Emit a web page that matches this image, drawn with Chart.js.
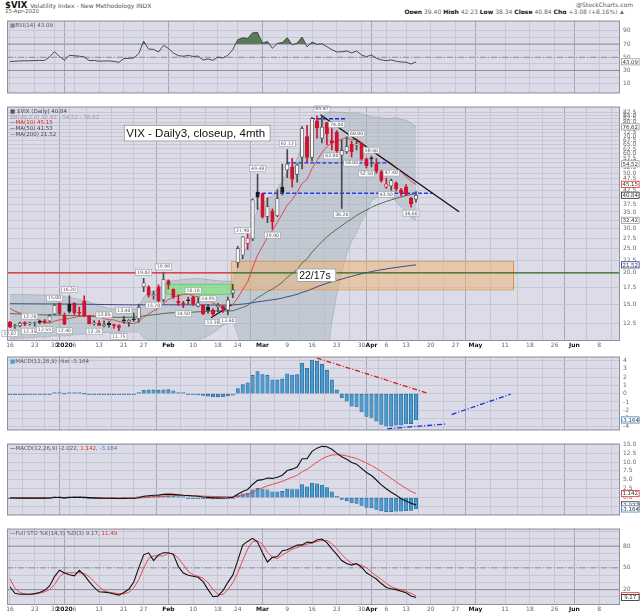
<!DOCTYPE html>
<html><head><meta charset="utf-8">
<script src="https://cdn.jsdelivr.net/npm/chart.js@4.4.1/dist/chart.umd.min.js"></script>
<style>
html,body{margin:0;padding:0;background:#fff;}
#wrap{position:relative;width:640px;height:614px;overflow:hidden;font-family:"DejaVu Sans",sans-serif;}
canvas{position:absolute;left:0;}
.t{position:absolute;white-space:nowrap;line-height:1;}
</style></head><body>
<div id="wrap">
<div class="t" style="left:5px;top:1px;font-size:8.5px;font-weight:bold;color:#111">$VIX <span style="font-size:6px;font-weight:normal;color:#555">Volatility Index - New Methodology INDX</span></div>
<div class="t" style="left:5px;top:9px;font-size:5.5px;color:#555">15-Apr-2020</div>
<div class="t" style="right:7px;top:2px;font-size:6px;color:#555">@StockCharts.com</div>
<div class="t" style="right:16px;top:9px;font-size:6px;color:#666"><b style="color:#111">Open</b> 39.40 <b style="color:#111">High</b> 42.23 <b style="color:#111">Low</b> 38.34 <b style="color:#111">Close</b> 40.84 <b style="color:#111">Chg</b> +3.08 (+8.16%) ▲</div>
<canvas id="cRsi" width="640" height="86" style="top:14px"></canvas>
<canvas id="cMain" width="640" height="250" style="top:100px"></canvas>
<canvas id="cHist" width="640" height="87" style="top:350px"></canvas>
<canvas id="cMacd" width="640" height="85" style="top:437px"></canvas>
<canvas id="cSto" width="640" height="92" style="top:522px"></canvas>
</div>
<script>
// ---------------- DATA ----------------
const dates = ['2019-12-16','2019-12-17','2019-12-18','2019-12-19','2019-12-20','2019-12-23','2019-12-24','2019-12-26','2019-12-27','2019-12-30','2019-12-31',
'2020-01-02','2020-01-03','2020-01-06','2020-01-07','2020-01-08','2020-01-09','2020-01-10','2020-01-13','2020-01-14','2020-01-15','2020-01-16','2020-01-17','2020-01-21','2020-01-22','2020-01-23','2020-01-24','2020-01-27','2020-01-28','2020-01-29','2020-01-30','2020-01-31',
'2020-02-03','2020-02-04','2020-02-05','2020-02-06','2020-02-07','2020-02-10','2020-02-11','2020-02-12','2020-02-13','2020-02-14','2020-02-18','2020-02-19','2020-02-20','2020-02-21','2020-02-24','2020-02-25','2020-02-26','2020-02-27','2020-02-28',
'2020-03-02','2020-03-03','2020-03-04','2020-03-05','2020-03-06','2020-03-09','2020-03-10','2020-03-11','2020-03-12','2020-03-13','2020-03-16','2020-03-17','2020-03-18','2020-03-19','2020-03-20','2020-03-23','2020-03-24','2020-03-25','2020-03-26','2020-03-27','2020-03-30','2020-03-31',
'2020-04-01','2020-04-02','2020-04-03','2020-04-06','2020-04-07','2020-04-08','2020-04-09','2020-04-13','2020-04-14','2020-04-15'];

const xTickIdx    = [0,5,9,11,13,18,23,27,32,37,42,46,51,56,61,66,71,73,76,80,85,90,94,100,105,110,114,119];
const xTickLabels = ['16','23','30','2020','6','13','21','27','Feb','10','18','24','Mar','9','16','23','30','Apr','6','13','20','27','May','11','18','26','Jun','8'];
const monthTickIdx = [11,32,51,73,94,114];

const prevClose0 = 12.63;
const open  = [12.70,12.20,12.30,12.65,12.50,12.55,12.70,12.85,12.85,13.70, 15.10,13.45,15.00,15.10,13.90,15.40,13.45,12.50,12.60,12.30, 12.60,12.35,12.30,12.95,12.70,13.00,13.10,17.60,17.60,16.20, 17.60,15.60,18.60,17.20,15.40,15.15,15.60,16.00,14.70,14.85, 14.60,14.20,14.60,14.70,14.20,16.60,22.00,23.50,26.20,27.40, 42.00,41.50,33.60,35.20,33.80,44.00,51.50,53.00,49.50,58.00, 70.00,57.80,80.90,69.00,79.70,67.50,73.00,59.00,61.00,65.20, 64.90,66.20,57.00,57.60,54.50,50.60,44.10,44.50,45.80,42.80, 44.10,39.70,39.40];
const high  = [12.80,12.45,12.70,12.75,12.70,12.75,12.95,13.00,13.65,15.00, 15.15,13.80,16.20,15.20,14.60,16.19,13.50,12.90,12.90,12.85, 12.80,12.45,12.40,13.40,13.00,13.80,15.00,19.02,17.80,16.85, 17.90,19.99,18.75,17.25,16.30,15.40,16.00,16.10,15.90,14.90, 14.95,14.40,15.10,14.75,16.00,18.00,25.50,27.90,30.00,39.50, 49.48,41.60,39.90,36.00,42.90,54.39,62.12,57.30,54.50,76.80, 77.60,83.56,84.83,85.47,79.90,75.40,74.00,68.00,69.90,67.00, 68.00,66.30,57.50,58.50,57.20,51.50,47.80,47.40,46.20,43.50, 45.00,40.10,42.23];
const low   = [12.07,12.00,12.15,12.30,12.35,12.25,12.50,12.55,12.70,13.55, 13.60,12.40,13.80,13.60,13.45,13.35,12.50,12.35,12.30,12.15, 12.10,12.00,11.75,12.55,12.20,12.80,12.70,16.80,16.00,15.70, 15.20,15.30,17.20,15.80,14.80,14.50,15.00,14.80,14.60,13.60, 13.80,13.38,14.00,13.90,13.60,15.90,21.00,22.80,24.80,26.90, 35.80,33.10,31.70,29.90,33.50,41.00,48.00,44.00,46.00,52.00, 55.30,56.00,69.00,66.10,65.00,62.00,59.50,36.20,60.00,58.00, 62.00,56.30,52.50,53.00,50.00,46.00,43.50,42.80,42.50,40.60, 40.70,36.60,38.34];
const close = [12.14,12.29,12.58,12.50,12.51,12.61,12.67,12.65,13.43,14.82, 13.78,12.47,14.02,13.85,13.79,13.45,12.54,12.56,12.32,12.39, 12.42,12.32,12.10,12.85,12.91,12.98,14.56,18.23,16.28,16.39, 15.49,18.84,17.97,16.05,15.15,14.96,15.47,15.04,15.18,13.74, 14.15,13.68,14.83,14.38,15.56,17.08,25.03,27.85,27.56,39.16, 40.11,33.42,36.82,31.99,39.62,41.94,54.46,47.30,53.90,75.47, 57.83,82.69,75.91,76.45,72.00,66.04,61.59,61.67,63.95,61.00, 65.54,57.08,53.54,57.06,50.91,46.80,45.24,46.70,43.35,41.67, 41.17,37.76,40.84];

const ma10  = [14.41,14.05,13.83,13.62,13.51,13.19,12.89,12.65,12.60,12.82, 12.98,13.00,13.15,13.28,13.41,13.49,13.48,13.47,13.36,13.12, 12.98,12.97,12.77,12.67,12.59,12.54,12.74,13.31,13.70,14.10, 14.41,15.06,15.65,15.97,16.19,16.39,16.48,16.16,16.05,15.79, 15.66,15.14,14.83,14.66,14.70,14.91,15.87,17.15,18.39,20.93, 23.52,25.50,27.70,29.46,31.86,34.35,37.29,39.24,41.87,45.50, 47.28,52.20,56.11,60.56,63.80,66.21,66.92,68.36,69.36,67.91, 68.68,66.12,63.89,61.95,59.84,57.91,56.28,54.78,52.72,50.79, 48.35,46.42,45.15];
const ma50  = [13.75,13.72,13.70,13.68,13.65,13.62,13.60,13.58,13.57,13.57, 13.56,13.52,13.50,13.48,13.46,13.44,13.41,13.38,13.35,13.33, 13.31,13.29,13.27,13.27,13.28,13.30,13.35,13.45,13.52,13.60, 13.66,13.76,13.82,13.85,13.86,13.87,13.90,13.93,13.97,14.00, 14.04,14.06,14.08,14.08,14.09,14.10,14.32,14.55,14.82,15.35, 15.91,16.33,16.82,17.21,17.75,18.34,19.17,19.87,20.68,21.89, 22.77,24.17,25.41,26.66,27.83,28.88,29.86,30.84,31.88,32.85, 33.91,34.81,35.63,36.52,37.28,37.95,38.57,39.14,39.68,40.18, 40.70,41.08,41.53];
const ma200 = [15.05,15.05,15.04,15.04,15.03,15.03,15.02,15.02,15.02,15.02, 15.01,15.00,15.00,14.99,14.99,14.98,14.97,14.96,14.95,14.94, 14.93,14.92,14.91,14.90,14.90,14.89,14.89,14.90,14.90,14.90, 14.90,14.91,14.91,14.91,14.90,14.90,14.90,14.90,14.89,14.88, 14.88,14.87,14.87,14.87,14.88,14.89,14.94,15.00,15.07,15.19, 15.31,15.40,15.51,15.60,15.72,15.86,16.05,16.21,16.41,16.71, 16.93,17.26,17.57,17.88,18.16,18.42,18.65,18.88,19.13,19.36, 19.61,19.82,20.02,20.23,20.41,20.57,20.72,20.88,21.02,21.15, 21.28,21.40,21.52];
const bbUpper = [16.35,16.40,16.40,16.38,16.35,16.33,16.30,16.28,16.25,16.30, 16.21,16.05,15.95,15.80,15.65,15.50,15.30,15.05,14.80,14.60, 14.40,14.35,14.35,14.30,14.30,14.30,14.60,16.00,16.60,17.00, 17.20,17.94,18.40,18.60,18.70,18.80,18.89,18.95,19.00,18.90, 18.80,18.70,18.60,18.55,18.50,18.48,21.04,23.58,25.68,31.42, 35.55,37.30,39.60,40.70,43.50,46.20,50.60,52.80,57.00,65.20, 66.30,75.45,80.50,84.40,86.60,87.90,87.70,87.40,87.40,86.90, 87.00,86.20,85.20,83.70,83.60,83.30,82.60,83.00,83.40,82.00, 81.50,79.30,76.62];
const bbLower = [10.90,10.90,10.95,11.00,11.00,11.05,11.10,11.10,11.15,11.20, 11.19,11.20,11.25,11.30,11.35,11.40,11.45,11.50,11.50,11.55, 11.56,11.60,11.55,11.60,11.60,11.60,11.60,11.00,10.80,10.60, 10.50,10.08,10.00,10.10,10.20,10.25,10.33,10.50,10.70,11.00, 11.20,11.50,11.90,12.30,12.60,12.82,11.32,9.74,8.76,5.30, 3.60,3.30,2.90,3.40,3.10,3.05,2.60,3.60,3.20,1.20, 4.50,2.30,3.30,5.60,9.00,12.70,16.50,20.20,23.80,26.70, 28.90,32.20,34.80,38.80,40.00,40.80,40.60,40.20,38.60,36.70, 35.50,33.20,32.42];

const rsi = [43.5,44.0,44.5,44.6,44.8,45.0,45.3,45.2,50.5,58.5, 51.0,45.7,52.9,52.3,51.7,50.5,45.0,45.2,44.0,44.3, 44.5,43.8,42.3,48.0,48.3,48.8,55.5,74.3,62.3,62.0, 57.9,67.9,63.5,56.5,52.5,51.5,52.8,51.2,51.8,45.8, 47.5,45.3,50.3,48.8,53.0,61.5,76.5,79.5,78.6,87.0, 87.5,71.3,74.0,63.6,70.9,72.5,79.5,68.7,71.5,80.5, 65.8,73.0,69.5,70.5,66.0,61.5,58.0,58.2,59.5,56.5, 59.4,53.5,50.8,53.5,48.5,46.0,44.8,46.0,43.9,42.8, 42.5,39.8,43.09];
const macd = [-0.08,-0.10,-0.12,-0.13,-0.14,-0.14,-0.14,-0.13,-0.08,0.05, 0.06,-0.05,0.05,0.08,0.10,0.08,0.00,-0.06,-0.12,-0.15, -0.17,-0.20,-0.23,-0.20,-0.18,-0.16,-0.03,0.38,0.55,0.68, 0.70,0.92,0.98,0.92,0.78,0.66,0.58,0.47,0.38,0.20, 0.08,-0.05,-0.06,-0.08,-0.02,0.10,0.95,1.75,2.30,3.70, 4.85,5.05,5.50,5.40,5.75,6.30,7.60,8.00,8.60,10.90, 10.90,13.00,13.90,14.40,14.30,13.60,12.50,11.50,10.80,9.85, 9.40,8.20,7.05,6.20,4.95,3.60,2.50,1.50,0.70,-0.30, -0.95,-1.60,-2.022];
const signal = [0.04,0.03,0.01,-0.01,-0.02,-0.03,-0.04,-0.03,-0.03,0.03, 0.01,-0.05,0.01,0.05,0.08,0.08,0.04,-0.01,-0.05,-0.07, -0.08,-0.10,-0.11,-0.10,-0.09,-0.08,-0.08,-0.02,0.10,0.23, 0.30,0.44,0.48,0.57,0.68,0.64,0.60,0.57,0.53,0.42, 0.38,0.32,0.32,0.28,0.26,0.23,0.37,0.65,0.98,1.52, 2.19,2.76,3.31,3.73,4.13,4.57,5.17,5.74,6.31,7.23, 7.96,8.97,9.96,10.85,11.54,11.95,12.06,11.95,11.72,11.34, 10.96,10.40,9.73,9.03,8.21,7.29,6.33,5.37,4.43,3.49, 2.60,1.76,1.142];
const hist = [-0.12,-0.13,-0.13,-0.12,-0.12,-0.11,-0.10,-0.10,-0.05,0.02, 0.05,0.00,0.04,0.03,0.02,0.00,-0.04,-0.05,-0.07,-0.08, -0.09,-0.10,-0.12,-0.10,-0.09,-0.08,0.05,0.40,0.45,0.45, 0.42,0.45,0.50,0.35,0.10,0.02,-0.02,-0.10,-0.15,-0.22, -0.30,-0.37,-0.38,-0.36,-0.28,-0.17,0.60,1.10,1.30,2.20, 2.65,2.30,2.20,1.65,1.65,1.75,2.40,2.25,2.30,3.65, 3.05,4.05,3.90,3.55,2.80,1.65,0.45,-0.47,-0.90,-1.50, -1.60,-2.20,-2.75,-2.85,-3.30,-3.70,-3.90,-3.90,-3.80,-3.80, -3.65,-3.60,-3.164];
const stoK = [24,15,13.6,13.6,13.6,14.5,16,19,25,38, 46.7,43,40.5,39,46.7,40,31,23,17,16.5, 15.7,14,12.4,16,20.5,30.5,50,68,70.8,60, 68,70.8,70.8,68.7,52,43,39.8,38.5,37,31, 20,10.2,11,18.5,30,40,60,81.4,86.5,90.7, 85.6,70.8,58.1,64.5,65.7,73.7,75,78,81.4,81.7, 85.6,84.8,88.6,89.9,84.8,76.3,68.7,60.2,56,53.8, 56,50.9,43.3,39,34.7,28.4,22.9,21.3,20,17.8, 15.7,11.2,9.17];
const stoD = [35,22,16,14,13.6,14,15,17,20,27, 38,43,43.3,43.3,43.3,42,38,31,24,18.7, 16.4,15.4,14.5,14.3,16.3,22.4,33.7,50,63,66.5, 66.5,66.5,70,69.5,63.5,54.6,45,40.4,38.4,35.7, 29.3,20.4,13.7,13.2,19.8,29.5,43.3,60.5,76,86.2, 87.6,82.4,71.5,64.5,62.8,68,71.5,75.6,78.1,80.7, 82.9,84,86.4,87.8,87.8,83.7,76.6,68.4,61.6,56.7, 54.6,53.6,50.1,44.4,39,34.1,28.7,24.2,21.4,19.7, 17.8,14.9,11.49];

// annotations (data units: x = trading-day index, y = value)
const trendMain  = [[62.7,85.7],[90.7,35.05]];
const trendSmall = [[40.6,13.23],[44.7,14.88]];
const blueLevel1 = [[60.8,82.5],[67.7,82.5]];
const blueLevel2 = [[55.8,55.0],[76.6,55.0]];
const blueLevel3 = [[49.7,41.6],[85.3,41.6]];
const level20    = 20;
const level20Split = 44.7;
const zoneX = [44.7,101.7], zoneY = [17.1,22.2];
const greenX = [31.6,44.7], greenY = [16.4,18.0];
const histRedLine  = [[62.0,4.29],[84.1,0.10]];
const histBlueLow  = [[76.2,-4.22],[88.2,-3.64]];
const histBlueHigh = [[89.2,-2.51],[101.1,-0.06]];
const note1 = {text:'VIX - Daily3, closeup, 4mth', x:23.0, y:78.0};
const note2 = {text:'22/17s', x:57.9, y:20.8};
const hlLabels = [[0,'L'],[4,'H'],[4,'L'],[7,'L'],[9,'H'],[12,'H'],[11,'L'],[17,'L'],[19,'H'],[23,'H'],[22,'L'],[27,'H'],[31,'H'],[29,'L'],[35,'L'],[37,'H'],[40,'H'],[41,'L'],[44,'L'],[47,'H'],[50,'H'],[53,'L'],[56,'H'],[63,'H'],[65,'L'],[69,'L'],[70,'H'],[73,'H'],[72,'L'],[77,'H'],[76,'L'],[67,'L'],[81,'L'],[66,'H']];

const mainTicks = [12.5,15,17.5,20,22.5,25,27.5,30,32.5,35,37.5,40,42.5,45,47.5,50,52.5,55,57.5,60,62.5,65,67.5,70,72.5,75,77.5,80,82.5,85,87.5];
const rsiTicks = [10,20,30,40,50,60,70,80,90];
const rsiLevels = [70,50,30];
const histTicks = [-4,-3,-2,-1,0,1,2,3,4];
const macdTicks = [-2.5,0,2.5,5,7.5,10,12.5,15];
const stoTicks = [0,10,20,30,40,50,60,70,80,90,100];
const stoLevels = [80,50,20];
const mainBoxes = [[76.62,'#999'],[54.52,'#999'],[45.15,'#e02828'],[40.84,'#222'],[32.42,'#999'],[21.52,'#2a2aa0']];
const rsiBoxes  = [[43.09,'#999']];
const histBoxes = [[-3.164,'#3a7fc0']];
const macdBoxes = [[1.142,'#e02828'],[-2.022,'#222'],[-3.164,'#3a7fc0']];
const stoBoxes  = [[11.49,'#e02828'],[9.17,'#222']];

// ---------------- STYLE / HELPERS ----------------
const FONT = '"DejaVu Sans", sans-serif';
const BG = '#dcdce9', GRID = '#c6c6d5', GRID_M = '#a8a8ba';
const RED = '#d0132e', BLK = '#1a1a1a';
const X_MIN = -0.6, X_MAX = 123.2;
const pts = a => a.map((v,i)=>({x:i,y:v}));
const seg = a => a.map(p=>({x:p[0],y:p[1]}));
const hline = (y,x0,x1) => [{x:x0,y:y},{x:x1,y:y}];
const rect = (xs,ys) => [{x:xs[0],y:ys[0]},{x:xs[0],y:ys[1]},{x:xs[1],y:ys[1]},{x:xs[1],y:ys[0]},{x:xs[0],y:ys[0]}];
function line(data, color, o){ return Object.assign({type:'line', data, borderColor:color, backgroundColor:color, borderWidth:1, pointRadius:0, tension:0, fill:false}, o||{}); }

function xScale(show){
  return { type:'linear', min:X_MIN, max:X_MAX, offset:false,
    afterBuildTicks: s => { s.ticks = xTickIdx.map(v=>({value:v})); },
    afterFit: s => { s.height = show ? 9 : 0; },
    ticks:{ display:show, autoSkip:false, maxRotation:0, minRotation:0, padding:1,
      callback: v => { const k = xTickIdx.indexOf(v); return k>=0 ? xTickLabels[k] : ''; },
      font: c => ({family:FONT, size:6, weight: (c.tick && monthTickIdx.includes(c.tick.value)) ? 'bold':'normal'}),
      color: c => (c.tick && monthTickIdx.includes(c.tick.value)) ? '#111' : '#666' },
    grid:{ drawTicks:false, color: c => (c.tick && monthTickIdx.includes(c.tick.value)) ? GRID_M : GRID, lineWidth:1 },
    border:{ display:false } };
}
function yScale(o, ticks, cb){
  return Object.assign({ position:'right',
    afterFit: s => { s.width = 20; },
    afterBuildTicks: s => { s.ticks = ticks.map(v=>({value:v})); },
    ticks:{ autoSkip:false, padding:3, font:{family:FONT, size:6}, color:'#6a6a6a', callback:cb },
    grid:{ drawTicks:false, color:GRID },
    border:{ display:false } }, o);
}
function drawLegend(c, lines, dy){
  const ctx=c.ctx, a=c.chartArea; ctx.save();
  ctx.font = '5.5px '+FONT; ctx.textBaseline='top';
  lines.forEach((ln,i)=>{ let x=a.left+3; const y=a.top+2+i*(dy||5.8);
    ln.forEach(([t,col])=>{ ctx.fillStyle=col; ctx.fillText(t,x,y); x+=ctx.measureText(t).width; }); });
  ctx.restore();
}
function drawBoxes(c, boxes, dec){
  const ctx=c.ctx, ys=c.scales.y, x0=c.chartArea.right+1; ctx.save();
  ctx.font='5.5px '+FONT; ctx.textAlign='center'; ctx.textBaseline='middle';
  boxes.forEach(([v,col])=>{ const y=ys.getPixelForValue(v), w=18.5, h=7;
    ctx.fillStyle='#fff'; ctx.fillRect(x0,y-h/2,w,h);
    ctx.strokeStyle=col; ctx.lineWidth=0.8; ctx.strokeRect(x0+0.4,y-h/2+0.4,w-0.8,h-0.8);
    ctx.fillStyle='#333'; ctx.fillText(v.toFixed(dec), x0+w/2, y+0.3); });
  ctx.restore();
}
function panel(opt){
  return { id:'panel_'+Math.random().toString(36).slice(2),
    beforeDraw(c){ const ctx=c.ctx,a=c.chartArea; ctx.save(); ctx.fillStyle='#fff'; ctx.fillRect(0,0,c.width,c.height);
      ctx.fillStyle=BG; ctx.fillRect(a.left,a.top,a.right-a.left,a.bottom-a.top); ctx.restore(); },
    afterDatasetsDraw(c){ if(opt.after) opt.after(c); },
    afterDraw(c){ const ctx=c.ctx,a=c.chartArea; ctx.save(); ctx.strokeStyle='#8f8fa0'; ctx.lineWidth=1;
      ctx.strokeRect(a.left+0.5,a.top+0.5,a.right-a.left-1,a.bottom-a.top-1); ctx.restore();
      if(opt.legend) drawLegend(c,opt.legend,opt.dy);
      if(opt.boxes) drawBoxes(c,opt.boxes,opt.dec); } };
}
function mk(id, type, datasets, scales, opt){
  return new Chart(document.getElementById(id), { type, data:{datasets},
    options:{ responsive:false, animation:false, events:[],
      layout:{padding:{left:7,right:0,top:0,bottom:0}},
      plugins:{legend:{display:false}, tooltip:{enabled:false}}, scales },
    plugins:[panel(opt)] });
}

// ---------------- RSI ----------------
mk('cRsi','line',[
  line(pts(rsi),'#3a3a3a',{order:1, borderWidth:0.9, fill:{target:{value:70}, above:'#587c58', below:'rgba(0,0,0,0)'}}),
  line(hline(rsiLevels[0],X_MIN,X_MAX),'#8c8c9c',{order:5}),
  line(hline(rsiLevels[1],X_MIN,X_MAX),'#8c8c9c',{order:5, borderDash:[6,2,1,2]}),
  line(hline(rsiLevels[2],X_MIN,X_MAX),'#8c8c9c',{order:5})
],{ x:xScale(false), y:yScale({min:-4.7,max:105.5}, rsiTicks, v => (v%20===10)? String(v):'') },
{ legend:[[['\u25A0','#7a8a9a'],['RSI(14) 43.09','#555']]], boxes:rsiBoxes, dec:2 });

// ---------------- MAIN PRICE ----------------
const cColor = close.map((c,i)=> c < (i ? close[i-1] : prevClose0) ? RED : BLK);
const isHollow = close.map((c,i)=> c > open[i]);
const bodyFill = close.map((c,i)=> isHollow[i] ? '#f8f8fc' : cColor[i]);
const bodyBorder = close.map((c,i)=> isHollow[i] ? (cColor[i]===RED ? RED : '#555') : cColor[i]);
const wickColor = cColor.map(c => c===RED ? RED : '#4a4a4a');

function mainAfter(c){
  const ctx=c.ctx, xs=c.scales.x, ys=c.scales.y;
  ctx.save();
  // small high/low value tags
  ctx.font='4.6px '+FONT; ctx.textAlign='center'; ctx.textBaseline='middle';
  hlLabels.forEach(([i,t])=>{
    const x=xs.getPixelForValue(i);
    const y = t==='H' ? ys.getPixelForValue(high[i])-6 : ys.getPixelForValue(low[i])+6;
    const s=(t==='H'?high[i]:low[i]).toFixed(2), w=ctx.measureText(s).width+3, h=6;
    if(y<c.chartArea.top+2 || y>c.chartArea.bottom-2) return;
    ctx.fillStyle='rgba(255,255,255,0.92)'; ctx.fillRect(x-w/2,y-h/2,w,h);
    ctx.strokeStyle='#9a9aa6'; ctx.lineWidth=0.6; ctx.strokeRect(x-w/2,y-h/2,w,h);
    ctx.fillStyle='#555'; ctx.fillText(s,x,y+0.2);
  });
  // text notes
  [[note1,11.5,16.5],[note2,10.5,13.4]].forEach(([n,fs,h])=>{
    ctx.font=fs+'px "Liberation Sans", Arial, sans-serif'; ctx.textAlign='left'; ctx.textBaseline='middle';
    const x=xs.getPixelForValue(n.x), y=ys.getPixelForValue(n.y), w=ctx.measureText(n.text).width+8;
    ctx.fillStyle='#fff'; ctx.fillRect(x,y,w,h);
    ctx.strokeStyle='#8a8a8a'; ctx.lineWidth=0.8; ctx.strokeRect(x+0.4,y+0.4,w-0.8,h-0.8);
    ctx.fillStyle='#111'; ctx.fillText(n.text,x+2.5,y+h/2+0.5);
  });
  ctx.restore();
}

mk('cMain','bar',[
  {type:'bar', data:close.map((c,i)=>({x:i,y:[open[i],c]})), backgroundColor:bodyFill, borderColor:bodyBorder, borderWidth:0.8, borderSkipped:false, barThickness:3.4, minBarLength:1, grouped:false, order:1},
  {type:'bar', data:close.map((c,i)=>({x:i,y:[low[i],high[i]]})), backgroundColor:wickColor, borderWidth:0, barThickness:1, grouped:false, order:2},
  line(seg(trendMain),'#111',{order:3, borderWidth:1.3}),
  line(seg(trendSmall),'#111',{order:3, borderWidth:1.2}),
  line(seg(blueLevel1),'#1a2be0',{order:4, borderWidth:1.4, borderDash:[4,2]}),
  line(seg(blueLevel2),'#1a2be0',{order:4, borderWidth:1.4, borderDash:[4,2]}),
  line(seg(blueLevel3),'#2a3be8',{order:4, borderWidth:1.4, borderDash:[4,2]}),
  line(pts(ma10),'#e03a3a',{order:5, borderWidth:0.9}),
  line(pts(ma50),'#3c6a3c',{order:6, borderWidth:0.9}),
  line(pts(ma200),'#3e4a8a',{order:7, borderWidth:1}),
  line(hline(level20,X_MIN,level20Split),'#d42020',{order:8, borderWidth:1.3}),
  line(hline(level20,level20Split,X_MAX),'#2a6a1a',{order:8, borderWidth:1.3}),
  line(rect(zoneX,zoneY),'rgba(226,150,70,0.75)',{order:9, fill:'shape', backgroundColor:'rgba(240,178,110,0.5)'}),
  line(rect(greenX,greenY),'rgba(90,200,90,0.8)',{order:9, fill:'shape', backgroundColor:'rgba(120,235,120,0.6)'}),
  line(pts(bbUpper),'rgba(140,152,165,0.7)',{order:10, borderWidth:0.7, fill:'+1', backgroundColor:'rgba(168,182,190,0.5)'}),
  line(pts(bbLower),'rgba(140,152,165,0.7)',{order:10, borderWidth:0.7})
],{ x:xScale(true),
    y:yScale({type:'logarithmic', min:10.68, max:92.3}, mainTicks, v => Number(v).toFixed(1)) },
{ after:mainAfter, boxes:mainBoxes, dec:2,
  legend:[[['\u25A0 ','#555'],['$VIX (Daily) 40.84','#444']],
          [['BB(20,2.0) 32.42 - 54.52 - 76.62','#9a9aaa']],
          [['\u2014','#e02020'],['MA(10) 45.15','#e02020']],
          [['\u2014','#333'],['MA(50) 41.53','#444']],
          [['\u2014','#3e4a8a'],['MA(200) 21.52','#444']]] });

// ---------------- MACD HISTOGRAM ----------------
const HB = '#4a9bd0', HBB = '#23628f';
mk('cHist','bar',[
  line(seg(histRedLine),'#e01818',{order:1, borderWidth:1.3, borderDash:[5,2,1,2]}),
  line(seg(histBlueLow),'#1a2be0',{order:1, borderWidth:1.3, borderDash:[5,2,1,2]}),
  line(seg(histBlueHigh),'#1a2be0',{order:1, borderWidth:1.3, borderDash:[5,2,1,2]}),
  {type:'bar', data:pts(hist), backgroundColor:HB, borderColor:HBB, borderWidth:0.6, borderSkipped:false, barThickness:3.4, minBarLength:1, grouped:false, order:5}
],{ x:xScale(false), y:yScale({min:-4.42,max:4.46}, histTicks, v => String(v)) },
{ legend:[[['\u25A0','#4a9bd0'],['MACD(12,26,9) Hist -3.164','#555']]], boxes:histBoxes, dec:3 });

// ---------------- MACD ----------------
mk('cMacd','bar',[
  line(pts(macd),'#111',{order:1, borderWidth:1.1}),
  line(pts(signal),'#ee3a3a',{order:2, borderWidth:0.9}),
  {type:'bar', data:pts(hist), backgroundColor:HB, borderColor:HBB, borderWidth:0.6, borderSkipped:false, barThickness:3.4, minBarLength:1, grouped:false, order:5}
],{ x:xScale(false), y:yScale({min:-4.98,max:15.17}, macdTicks, v => Number(v).toFixed(1)) },
{ legend:[[['\u2014','#111'],['MACD(12,26,9) -2.022, ','#555'],['1.142, ','#e03030'],['-3.164','#3a7fc0']]], boxes:macdBoxes, dec:3 });

// ---------------- FULL STO ----------------
mk('cSto','line',[
  line(pts(stoK),'#111',{order:1, borderWidth:1.1}),
  line(pts(stoD),'#ee3a3a',{order:2, borderWidth:0.9}),
  line(hline(stoLevels[0],X_MIN,X_MAX),'#8c8c9c',{order:5}),
  line(hline(stoLevels[1],X_MIN,X_MAX),'#8c8c9c',{order:5, borderDash:[6,2,1,2]}),
  line(hline(stoLevels[2],X_MIN,X_MAX),'#8c8c9c',{order:5})
],{ x:xScale(true), y:yScale({min:-1.2,max:104.2}, stoTicks, v => (v===20||v===50||v===80)? String(v):'') },
{ legend:[[['\u2014','#333'],['Full STO %K(14,3) %D(3) 9.17, ','#555'],['11.49','#e03030']]], boxes:stoBoxes, dec:2 });
</script>
</body></html>
